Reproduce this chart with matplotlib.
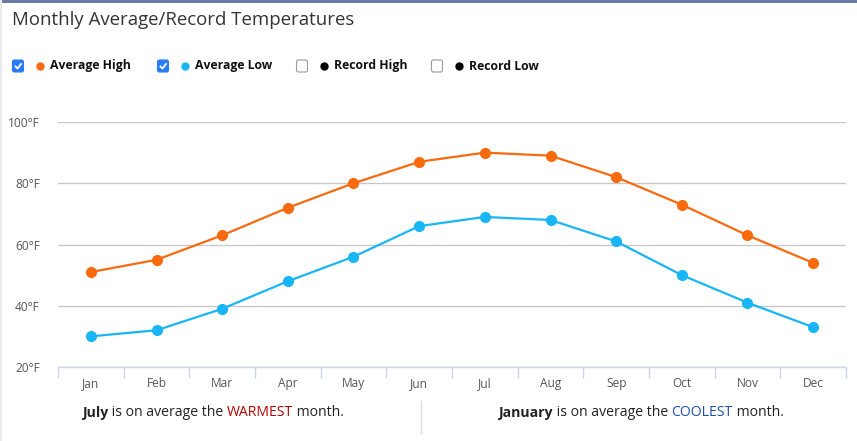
import matplotlib
matplotlib.use("Agg")
import matplotlib.pyplot as plt
from matplotlib.patches import FancyBboxPatch, Rectangle

months = ["Jan", "Feb", "Mar", "Apr", "May", "Jun", "Jul", "Aug", "Sep", "Oct", "Nov", "Dec"]
avg_high = [51, 55, 63, 72, 80, 87, 90, 89, 82, 73, 63, 54]
avg_low = [30, 32, 39, 48, 56, 66, 69, 68, 61, 50, 41, 33]
y_ticks = [20, 40, 60, 80, 100]
y_tick_labels = ["20°F", "40°F", "60°F", "80°F", "100°F"]
legend_names = ["Average High", "Average Low", "Record High", "Record Low"]
legend_colors = ["#f96a0d", "#18b6f6", "#000000", "#000000"]
legend_checked = [True, True, False, False]

HIGH_C = "#f96a0d"
LOW_C = "#18b6f6"
FONT = ["Open Sans", "DejaVu Sans"]
plt.rcParams['font.family'] = FONT

W, H = 857, 441
fig = plt.figure(figsize=(W / 100, H / 100), dpi=100)
fig.patch.set_facecolor("white")

# overlay in pixel coordinates
ov = fig.add_axes([0, 0, 1, 1])
ov.set_xlim(0, W)
ov.set_ylim(H, 0)
ov.axis("off")

# main chart axes
L, R, T, B = 58, 846, 122, 367
ax = fig.add_axes([L / W, (H - B) / H, (R - L) / W, (B - T) / H])
x = list(range(len(months)))
ax.plot(x, avg_high, color=HIGH_C, lw=1.6, marker="o", ms=7, zorder=3, clip_on=False)
ax.plot(x, avg_low, color=LOW_C, lw=1.6, marker="o", ms=7, zorder=3, clip_on=False)
ax.set_xlim(-0.5, len(months) - 0.5)
ax.set_ylim(20, 100)
ax.set_yticks(y_ticks)
ax.set_yticklabels(y_tick_labels)
ax.set_xticks(x)
ax.set_xticklabels(months)
ax.set_xticks([i - 0.5 for i in range(len(months) + 1)], minor=True)
ax.tick_params(axis="x", which="major", length=0, pad=7, labelsize=8.6, labelcolor="#555555")
ax.tick_params(axis="x", which="minor", length=8, width=1, color="#ccd6eb", direction="out")
ax.tick_params(axis="y", length=0, pad=13, labelsize=8.6, labelcolor="#555555")
for s in ["top", "right", "left"]:
    ax.spines[s].set_visible(False)
ax.spines["bottom"].set_color("#ccd6eb")
ax.spines["bottom"].set_linewidth(1)
ax.yaxis.grid(True, color="#c8c8c8", lw=1)
ax.set_axisbelow(True)
ax.patch.set_alpha(0)

# frame decorations
ov.add_patch(Rectangle((0, 0), W, 3, color="#6b7ba3", lw=0))
ov.add_patch(Rectangle((0, 0), 2, H, color="#ebebeb", lw=0))

# title
ov.text(12, 20, "Monthly Average/Record Temperatures", fontsize=13.4, color="#333333",
        va="center", ha="left")

# legend
ly = 66
legend_x = [12, 157, 296, 431]
for lx, name, col, checked in zip(legend_x, legend_names, legend_colors, legend_checked):
    if checked:
        ov.add_patch(FancyBboxPatch((lx + 1, ly - 5.5), 10, 11, boxstyle="round,pad=0.5,rounding_size=2",
                                    fc="#2a7cf5", ec="#2a7cf5", lw=0.8))
        ov.plot([lx + 3.5, lx + 5.5, lx + 9], [ly + 0.5, ly + 2.5, ly - 2], color="white", lw=1.3)
    else:
        ov.add_patch(FancyBboxPatch((lx + 1, ly - 5.5), 10, 11, boxstyle="round,pad=0.5,rounding_size=2",
                                    fc="white", ec="#9a9a9a", lw=0.8))
    ov.plot([lx + 28], [ly], marker="o", ms=5, color=col, mec=col)
    ov.text(lx + 38, ly, name, fontsize=8.8, fontweight="bold", color="#111111",
            va="center", ha="left")

renderer = fig.canvas.get_renderer()

# bottom notes
def rich(segments, cx, y):
    texts = []
    widths = []
    for s, w, c in segments:
        t = ov.text(0, y, s, fontsize=10.1, fontweight=w, color=c, va="center", ha="left")
        texts.append(t)
        widths.append(t.get_window_extent(renderer).width)
    total = sum(widths)
    xpos = cx - total / 2
    for t, wdt in zip(texts, widths):
        t.set_x(xpos)
        xpos += wdt

rich([("July", "bold", "#222222"), (" is on average the ", "normal", "#222222"),
      ("WARMEST", "normal", "#b00000"), (" month.", "normal", "#222222")], 213, 413)
rich([("January", "bold", "#222222"), (" is on average the ", "normal", "#222222"),
      ("COOLEST", "normal", "#1d4fa6"), (" month.", "normal", "#222222")], 641, 413)
ov.plot([421, 421], [401, 433], color="#dddddd", lw=1)

fig.savefig("out.png", dpi=100, facecolor="white")
